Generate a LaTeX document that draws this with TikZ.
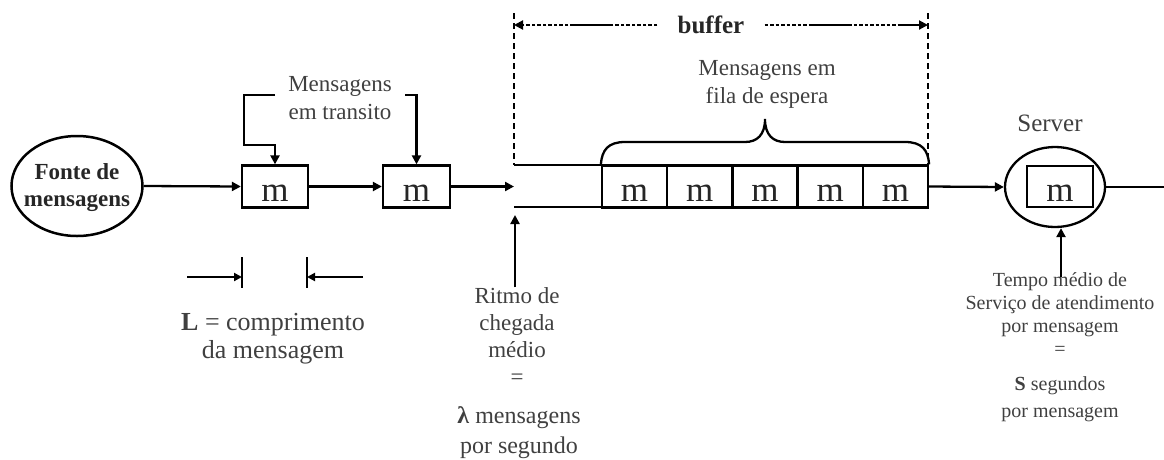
\documentclass[tikz,border=0pt]{standalone}
\usepackage{fontspec}
\setmainfont{Liberation Serif}
\usetikzlibrary{arrows.meta,shapes.geometric,calc}
\definecolor{lblgray}{gray}{0.25}
\begin{document}
\begin{tikzpicture}[x=1pt,y=-1pt,
  ln/.style={line width=2.3pt},
  arr/.style={ln,-{Triangle[length=9pt,width=9pt]}},
  msgbox/.style={draw,line width=2.3pt,minimum width=66pt,minimum height=42pt,
    inner sep=0pt,font=\fontsize{35}{35}\selectfont,text=black!85,
    text height=29pt,text depth=0pt},
  lbl/.style={align=center,text=lblgray,inner sep=0pt,font=\fontsize{23}{28}\selectfont},
  small/.style={lbl,font=\fontsize{20}{23}\selectfont},
  vdash/.style={line width=2pt,dash pattern=on 6pt off 4pt},
  bufline/.style={line width=2pt,-{Triangle[length=9pt,width=9pt]},
    dash pattern=on 3.5pt off 2pt on 3.5pt off 2pt on 3.5pt off 2pt on 3.5pt off 2pt
      on 3.5pt off 2pt on 3.5pt off 2pt on 3.5pt off 2pt on 3.5pt off 2pt on 43pt off 2pt}
]
\useasboundingbox (0,0) rectangle (1164,459);

% message source
\node[draw,ellipse,line width=2.5pt,minimum width=131pt,minimum height=100pt,inner sep=0pt]
  (src) at (77,186) {};
\node[align=center,inner sep=0pt,font=\fontsize{23}{27}\selectfont\bfseries,text=black!85]
  (srct) at (77,188) {Fonte de\\mensagens};

% messages in transit
\node[msgbox] (b1) at (275,186.5) {m};
\node[msgbox,minimum width=67pt] (b2) at (416.5,186.5) {m};
\draw[arr] (src.east) -- (b1.west);
\draw[arr] (b1.east) -- (b2.west);
\coordinate (qin) at (514,186.5);
\draw[arr] (b2.east) -- (qin);

\node[lbl] (trans) at (340,98) {Mensagens\\em transito};
\coordinate (tl) at (275,95);
\coordinate (tr) at (405,95);
\draw[arr] (tl) -- ++(-31,0) -- ++(0,50) -| (b1.north);
\draw[arr] (tr) -| (b2.north);

% message length
\coordinate (La) at (187,277);
\coordinate (Lb) at (242,277);
\coordinate (Lc) at (363,277);
\coordinate (Ld) at (307,277);
\draw[ln] (242,257) -- (242,288);
\draw[ln] (307,257) -- (307,288);
\draw[line width=2pt,-{Triangle[length=8pt,width=8pt]}] (La) -- (Lb);
\draw[line width=2pt,-{Triangle[length=8pt,width=8pt]}] (Lc) -- (Ld);
\node[lbl,font=\fontsize{26}{28}\selectfont] (len) at (273,339)
  {\textbf{L} = comprimento\\da mensagem};

% queue (buffer)
\coordinate (qtl) at (514,165);
\coordinate (qtr) at (928,165);
\coordinate (qbl) at (514,207);
\coordinate (qbr) at (928,207);
\draw[ln] (qtl) -- (qtr);
\draw[ln] (qbl) -- (qbr);
\foreach \i in {1,...,5}
  \node[msgbox,minimum width=65.2pt] (c\i) at ({602+65.2*(\i-0.5)},186.5) {m};

% buffer extent
\coordinate (vtl) at (514,13);
\coordinate (vtr) at (928,13);
\draw[vdash] (vtl) -- (qtl);
\draw[vdash] (vtr) -- (qtr);
\node[inner xsep=20pt,inner ysep=0pt,font=\fontsize{25}{25}\selectfont\bfseries,text=black!85]
  (buf) at (711,25) {buffer};
\draw[bufline] (buf.west) -- (vtl |- buf.west);
\draw[bufline] (buf.east) -- (vtr |- buf.east);

% brace over waiting messages
\draw[ln] (c1.north west) .. controls (602,150) and (608,142) .. (625,142)
  -- (745,142) .. controls (757,142) and (765,135) .. (765,119)
  .. controls (765,135) and (773,142) .. (785,142)
  -- (905,142) .. controls (922,142) and (928,150) .. (c5.north east);
\node[lbl] (wait) at (767,84) {Mensagens em\\fila de espera};

% arrival rate
\coordinate (rE) at (515,215);
\node[lbl,font=\fontsize{23}{27}\selectfont] (rit) at (517,336) {Ritmo de\\chegada\\médio\\=};
\draw[arr] (rit.north) ++(-2,0) coordinate (rS) -- (rS |- rE);
\node[lbl,font=\fontsize{24}{30}\selectfont] (lam) at (519,433)
  {\textbf{λ} mensagens\\por segundo};

% server
\node[lbl,font=\fontsize{25}{25}\selectfont] (srvl) at (1050,123) {Server};
\node[draw,ellipse,line width=2.3pt,minimum width=100pt,minimum height=80pt,inner sep=0pt]
  (srv) at (1055,187) {};
\node[msgbox,minimum height=41pt] (sm) at (1060,186.5) {m};
\draw[arr] (c5.east) -- (srv.west);
\coordinate (out) at (1164,187);
\draw[ln] (srv.east) -- (out);

% service time
\node[small] (svc) at (1060,314) {Tempo médio de\\Serviço de atendimento\\por mensagem\\=};
\node[small,font=\fontsize{20}{27}\selectfont] (sec) at (1060,399)
  {\textbf{S} segundos\\por mensagem};
\coordinate (tS) at (1061,277);
\draw[arr] (tS) -- (tS |- srv.south);
\end{tikzpicture}
\end{document}
